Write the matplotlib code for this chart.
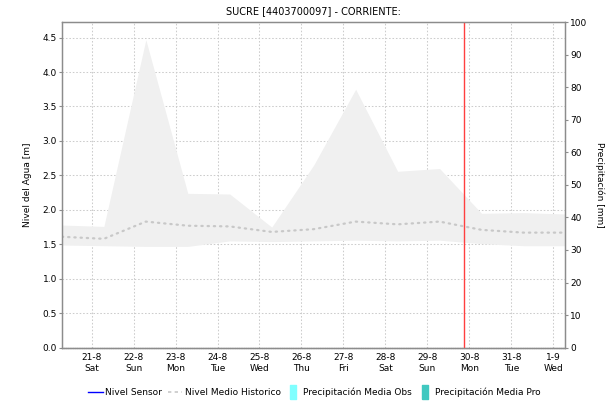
import numpy as np
import pandas as pd
import matplotlib
matplotlib.use('Agg')
import matplotlib.pyplot as plt
from matplotlib.lines import Line2D

# daily readings at 07:00, 20-8 .. 1-9
dates = pd.date_range('2021-08-20 07:00', periods=13, freq='D')
hist_max = [1.78, 1.76, 4.47, 2.24, 2.23, 1.75, 2.65, 3.75, 2.56, 2.60, 1.95, 1.96, 1.94]
hist_min = [1.49, 1.48, 1.47, 1.47, 1.55, 1.54, 1.55, 1.56, 1.55, 1.56, 1.51, 1.48, 1.48]
hist_mean = [1.61, 1.58, 1.83, 1.77, 1.76, 1.68, 1.72, 1.83, 1.79, 1.83, 1.71, 1.67, 1.67]
now = pd.Timestamp('2021-08-29 21:00')
tick_days = pd.date_range('2021-08-21', '2021-09-01', freq='D')

plt.rcParams['font.family'] = ['DejaVu Sans']
fig = plt.figure(figsize=(6.16, 4.03), dpi=100)
ax = fig.add_axes([0.1005, 0.1372, 0.8175, 0.8082])
ax2 = ax.twinx()

grey = '#8c8c8c'
ax.fill_between(dates, hist_min, hist_max, color='#f0f0f0', lw=0, zorder=1)
ax.plot(dates, hist_mean, color='#c8c8c8', lw=1.6, ls=(0, (0.6, 2.2)),
        dash_capstyle='round', zorder=2)
ax.axvline(now, color='#ff4040', lw=1, zorder=4)

ax.set_xlim(dates[0], dates[-1])
ax.set_ylim(0, 4.726)
ax2.set_ylim(0, 100)

ax.set_yticks(np.arange(0, 4.51, 0.5))
ax.set_yticklabels([f'{v:.1f}' for v in np.arange(0, 4.51, 0.5)])
ax2.set_yticks(range(0, 101, 10))
ax.set_xticks(tick_days)
ax.set_xticklabels([f'{d.day}-{d.month}\n{d.strftime("%a")}' for d in tick_days])

ax.grid(True, color='#cccccc', lw=0.75, ls=(0, (1.5, 1.8)), zorder=0)
ax.set_axisbelow(True)

for a in (ax, ax2):
    for s in a.spines.values():
        s.set_color(grey)
        s.set_linewidth(0.9)
ax.spines['bottom'].set_linestyle((0, (1, 0.8)))
ax.spines['bottom'].set_color('#505050')

ax.tick_params(axis='y', length=2, width=0.8, color=grey, labelsize=6.5, pad=1.5)
ax2.tick_params(axis='y', length=2, width=0.8, color=grey, labelsize=6.5, pad=1.5)
ax.tick_params(axis='x', length=0, labelsize=6.5, pad=4)

ax.set_ylabel('Nivel del Agua [m]', fontsize=6.5, labelpad=8)
ax2.set_ylabel('Precipitación [mm]', fontsize=6.5, rotation=-90, labelpad=12)
fig.text(0.509, 0.972, 'SUCRE [4403700097] - CORRIENTE:', ha='center', va='center',
         fontsize=7)

rect = [(-0.5, -1), (0.5, -1), (0.5, 1), (-0.5, 1), (-0.5, -1)]
handles = [
    Line2D([], [], color='#0000ff', lw=1),
    Line2D([], [], color='#c8c8c8', lw=1.2, ls=(0, (2, 2))),
    Line2D([], [], ls='none', marker=rect, markersize=10, color='#80ffff'),
    Line2D([], [], ls='none', marker=rect, markersize=10, color='#40c8c0'),
]
labels = ['Nivel Sensor', 'Nivel Medio Historico',
          'Precipitación Media Obs', 'Precipitación Media Pro']
fig.legend(handles, labels, loc='center', bbox_to_anchor=(0.51, 0.027), ncol=4,
           frameon=False, fontsize=6.5, handlelength=1.6, handletextpad=0.3,
           columnspacing=0.6)

fig.savefig('out.png', dpi=100)
